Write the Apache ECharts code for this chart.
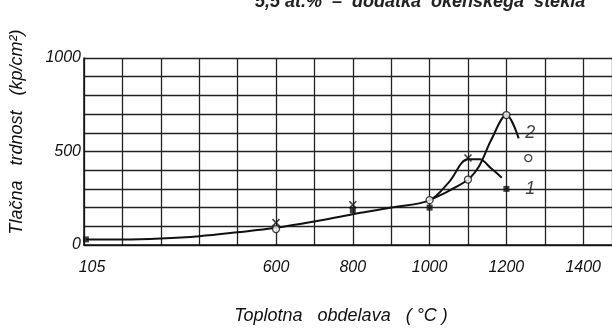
<!DOCTYPE html>
<html>
<head>
<meta charset="utf-8">
<script src="https://cdn.jsdelivr.net/npm/echarts@6/dist/echarts.min.js"></script>
<style>html,body{margin:0;padding:0;background:#fff}#c{width:612px;height:330px}</style>
</head>
<body>
<div id="c"></div>
<script>
// Data
const topTitle = '5,5 at.%  –  dodatka  okenskega  stekla';
const xTitle = 'Toplotna   obdelava   ( °C )';
const yTitle = 'Tlačna   trdnost   (kp/cm²)';
const xTickLabels = {100: '105', 600: '600', 800: '800', 1000: '1000', 1200: '1200', 1400: '1400'};
const yTickLabels = {0: '0', 500: '500', 1000: '1000'};

// curve 1 (shared lower branch + branch ending at "1")
const curve1 = [[105,30],[200,30],[300,35],[400,47],[500,68],[600,92],[700,126],[800,165],[900,200],[1000,240],[1050,335],[1100,458],[1130,458],[1160,410],[1188,360]];
// curve 2 (branch ending at "2")
const curve2 = [[1000,240],[1050,290],[1100,350],[1130,425],[1160,560],[1200,695],[1232,570]];
// measured points
const squares = [[105,30],[800,185],[1000,200],[1200,300]];
const crosses = [[600,120],[800,215],[1100,465]];
const circles = [[600,85],[1000,240],[1100,350],[1200,695],[1257,465]];
// curve labels
const curveLabels = [[1262,600,'2'],[1262,300,'1']];

const font = 'Liberation Sans';
const chart = echarts.init(document.getElementById('c'));
chart.setOption({
  backgroundColor: '#fff',
  animation: false,
  title: {
    text: topTitle, left: 250, top: -12,
    textStyle: {fontFamily: font, fontSize: 18, fontStyle: 'italic', fontWeight: 'bold', color: '#222'}
  },
  grid: {left: 84, right: 0, top: 58, bottom: 80},
  xAxis: {
    type: 'value', min: 100, max: 1475, interval: 100,
    axisLine: {show: true, lineStyle: {color: '#111', width: 1.5}},
    axisTick: {show: false},
    splitLine: {show: true, lineStyle: {color: '#222', width: 1.3}},
    axisLabel: {
      showMaxLabel: false, margin: 15,
      fontFamily: font, fontSize: 16, fontStyle: 'italic', color: '#111',
      formatter: v => xTickLabels[v] !== undefined ? (v === 100 ? '{a|' + xTickLabels[v] + '}' : xTickLabels[v]) : '',
      rich: {a: {fontFamily: font, fontSize: 16, fontStyle: 'italic', color: '#111', padding: [0, 0, 10, 16]}}
    },
    name: xTitle, nameLocation: 'middle', nameGap: 62,
    nameTextStyle: {fontFamily: font, fontSize: 18, fontStyle: 'italic', color: '#111', padding: [0, 14, 0, 0]}
  },
  yAxis: {
    type: 'value', min: 0, max: 1000, interval: 100,
    axisLine: {show: true, lineStyle: {color: '#111', width: 1.5}},
    axisTick: {show: false},
    splitLine: {show: true, lineStyle: {color: '#222', width: 1.3}},
    axisLabel: {
      margin: 3, fontFamily: font, fontSize: 16, fontStyle: 'italic', color: '#111',
      formatter: v => yTickLabels[v] !== undefined ? yTickLabels[v] : ''
    }
  },
  graphic: [{
    type: 'text', x: 17, y: 132, rotation: Math.PI / 2,
    style: {text: yTitle, align: 'center', verticalAlign: 'middle',
      font: 'italic 18px "Liberation Sans"', fill: '#111'}
  }],
  series: [
    {type: 'line', data: curve1, smooth: 0.35, showSymbol: false, lineStyle: {color: '#111', width: 2}, z: 3},
    {type: 'line', data: curve2, smooth: 0.35, showSymbol: false, lineStyle: {color: '#111', width: 2}, z: 3},
    {type: 'scatter', data: squares, symbol: 'rect', symbolSize: 6, itemStyle: {color: '#111'}, z: 5},
    {type: 'scatter', data: crosses, symbol: 'path://M0,0L10,10M10,0L0,10', symbolSize: 7,
      itemStyle: {color: 'none', borderColor: '#111', borderWidth: 1.6}, z: 5},
    {type: 'scatter', data: circles, symbol: 'circle', symbolSize: 7,
      itemStyle: {color: '#fff', borderColor: '#111', borderWidth: 1.3}, z: 6},
    {type: 'scatter', data: curveLabels.map(d => ({value: [d[0], d[1]], name: d[2]})),
      symbolSize: 0, itemStyle: {color: 'transparent'},
      label: {show: true, position: 'inside', formatter: p => p.name,
        fontFamily: font, fontSize: 18, fontStyle: 'italic', color: '#111'}, z: 7}
  ]
});
</script>
</body>
</html>
